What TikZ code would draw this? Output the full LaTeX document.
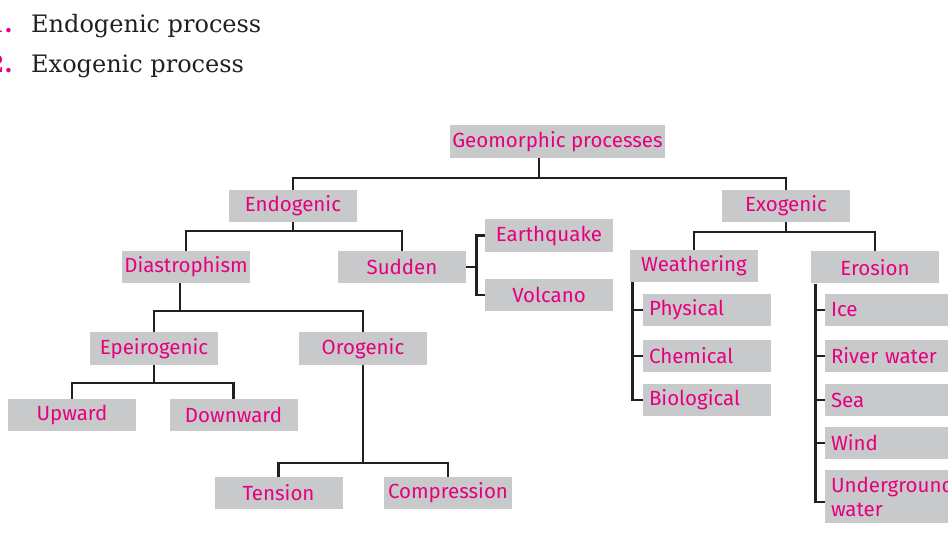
\documentclass[tikz,border=0pt]{standalone}
\usepackage{fontspec}
\usepackage{tikz}
\newfontfamily\boxfont{Fira Sans}
\newfontfamily\headfont{DejaVu Serif}
\definecolor{wileypink}{RGB}{230,0,126}
\definecolor{boxgray}{RGB}{200,201,202}
\definecolor{linedark}{RGB}{35,31,32}

\begin{document}
\begin{tikzpicture}[x=1pt, y=-1pt,
	proc/.style={fill=boxgray, text=wileypink, minimum width=128pt, minimum height=32pt, inner sep=0pt, font={\boxfont\fontsize{20.5}{24}\selectfont}},
	item/.style={proc, text width=116pt, inner xsep=6pt, align=left},
	heading/.style={inner sep=0pt, text=linedark, font={\headfont\fontsize{24}{30}\selectfont}},
	number/.style={heading, anchor=base east, text=wileypink, font={\headfont\bfseries\fontsize{24}{30}\selectfont}},
	link/.style={draw=linedark, line width=2.8pt}]
	\useasboundingbox (0,0) rectangle (948,553);
	\node[number] (n1) at (13,33) {1.};
	\node[heading, anchor=base west] (t1) at (31,33) {Endogenic process};
	\node[number] (n2) at (13,73) {2.};
	\node[heading, anchor=base west] (t2) at (31,73) {Exogenic process};
	\node[proc, minimum width=215pt, minimum height=33pt] (geo) at (557.5,141.5) {Geomorphic processes};
	\node[proc] (endo) at (293,206) {Endogenic};
	\node[proc] (exo) at (786,206) {Exogenic};
	\node[proc] (dias) at (186,267) {Diastrophism};
	\node[proc] (sud) at (402,267) {Sudden};
	\node[proc, minimum height=33pt] (earth) at (549,235.5) {Earthquake};
	\node[proc] (volc) at (549,295) {Volcano};
	\node[proc] (epei) at (154,348.5) {Epeirogenic};
	\node[proc] (oro) at (363,348.5) {Orogenic};
	\node[proc] (up) at (72,415) {Upward};
	\node[proc] (down) at (233.5,415) {Downward};
	\node[proc] (tens) at (278.5,493) {Tension};
	\node[proc] (comp) at (448,493) {Compression};
	\node[proc] (weath) at (694,266) {Weathering};
	\node[proc] (eros) at (875,267.5) {Erosion};
	\node[item] (phys) at (707,310) {Physical};
	\node[item] (chem) at (707,356) {Chemical};
	\node[item] (bio) at (707,400) {Biological};
	\node[item] (ice) at (889,310) {Ice};
	\node[item] (river) at (889,356) {River water};
	\node[item] (sea) at (889,400) {Sea};
	\node[item] (wind) at (889,443) {Wind};
	\node[item, minimum height=53pt] (under) at (889,496.5) {Underground\\water};
	\draw[link] ([xshift=-18.5pt]geo.south) -- ++(0,20);
	\draw[link] (endo.north) |- (exo.north |- 0,178) -- (exo.north);
	\draw[link] (endo.south) -- ++(0,9);
	\draw[link] (dias.north) |- (sud.north |- 0,231) -- (sud.north);
	\draw[link] ([xshift=-6pt]dias.south) -- ++(0,28);
	\draw[link] (epei.north) |- (oro.north |- 0,311) -- (oro.north);
	\draw[link] (epei.south) -- ++(0,19);
	\draw[link] (up.north) |- (down.north |- 0,383) -- (down.north);
	\draw[link] (oro.south) -- ++(0,99);
	\draw[link] (tens.north) |- (comp.north |- 0,463) -- (comp.north);
	\draw[link] (sud.east) -- ++(11,0);
	\draw[link] (earth.west) -- ++(-8,0) |- (volc.west);
	\draw[link] (exo.south) -- ++(0,10);
	\draw[link] (weath.north) |- (eros.north |- 0,232) -- (eros.north);
	\draw[link] ([xshift=3pt]weath.south west) |- (bio.west);
	\draw[link] (phys.west) -- ++(-10,0);
	\draw[link] (chem.west) -- ++(-10,0);
	\draw[link] ([xshift=5pt]eros.south west) |- ([yshift=-5.5pt]under.west);
	\draw[link] (ice.west) -- ++(-9,0);
	\draw[link] (river.west) -- ++(-9,0);
	\draw[link] (sea.west) -- ++(-9,0);
	\draw[link] (wind.west) -- ++(-9,0);
\end{tikzpicture}
\end{document}
